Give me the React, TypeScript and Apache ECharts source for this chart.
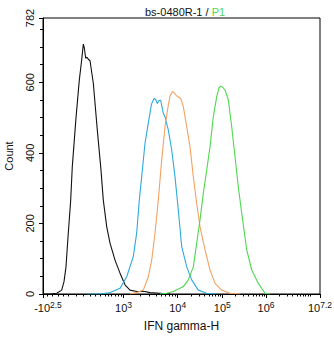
import React, { useEffect, useRef } from "react";
import * as echarts from "echarts";

// x values are display channels (0..1024) of the biexponential axis
const xMajorTicks = [0, 297.6, 498, 662.8, 824.4, 1024];
const xMajorLabels = ["{m|-10}{s|2.5}", "10{s|3}", "10{s|4}", "10{s|5}", "10{s|6}", "10{s|7.2}"];
const xLowMinorTicks = [15.9, 35.9, 55.5, 73.9, 92.4, 122, 149, 173.8, 192.3, 210.7, 229.2, 241.4, 254, 266.2, 278.4, 287.6];
const xDecadeChannels = [297.6, 498, 662.8, 824.4, 987];

const yMajorTicks = [0, 200, 400, 600, 782];
const yMinorTicks = [50, 100, 150, 250, 300, 350, 450, 500, 550, 650, 700, 750];

const blackCurve: number[][] = [
  [0, 0], [25.9, 0], [50.6, 2], [69.1, 11], [77.6, 35], [85, 77], [93.5, 173], [102.4, 266],
  [108.3, 361], [122, 499], [134.2, 606], [143, 663], [149, 708], [152.7, 697], [157.9, 668],
  [162.7, 671], [167.5, 665], [173.8, 661], [186, 597], [200.7, 465], [214.4, 351], [222.9, 266],
  [235.5, 191], [247.7, 144], [266.2, 96], [284.7, 59], [303.2, 26], [321.6, 11], [346.4, 7],
  [377, 7], [395.6, 4], [432.5, 2], [469.5, 0],
];
const blueCurve: number[][] = [
  [161.6, 0], [210.7, 0], [247.7, 4], [284.7, 16], [309.4, 49], [333.8, 106], [346.4, 173],
  [356, 266], [368.6, 361], [377.1, 427], [393, 502], [401.2, 538], [410.4, 554], [416, 552],
  [422.6, 540], [428.8, 548], [435.1, 549], [444.7, 512], [451, 502], [463.2, 465], [475.8, 408],
  [488, 332], [500.2, 238], [512.8, 134], [531.3, 77], [549.7, 40], [574.1, 11], [605.2, 2], [636, 0],
];
const orangeCurve: number[][] = [
  [321.6, 0], [346.4, 4], [370.8, 11], [389.3, 49], [401.9, 96], [414.1, 172], [426.3, 266],
  [438.8, 380], [451, 474], [463.2, 535], [469.5, 561], [478.8, 574], [486.2, 569], [494.3, 561],
  [502.8, 557], [509.1, 554], [518.7, 531], [531.3, 474], [543.5, 417], [555.7, 332], [568.2, 257],
  [580.4, 191], [598.9, 125], [617.4, 68], [635.9, 30], [660.7, 11], [691.3, 2], [728.3, 0],
];
const greenCurve: number[][] = [
  [432.5, 0], [457.3, 2], [481.7, 7], [506.5, 16], [518.7, 21], [537.2, 40], [555.7, 77],
  [568.2, 144], [580.4, 210], [592.6, 285], [605.2, 351], [617.4, 417], [629.6, 502], [642.2, 559],
  [650.7, 584], [657, 589], [663.6, 586], [672.9, 578], [685.1, 550], [697.6, 474], [709.8, 389],
  [722, 304], [734.6, 229], [753.1, 125], [771.6, 68], [796, 30], [820.7, 2], [839.2, 0],
];

function decadeMinorTicks(): number[] {
  const out: number[] = [...xLowMinorTicks];
  for (let i = 0; i < xDecadeChannels.length - 1; i++) {
    const a = xDecadeChannels[i];
    const b = xDecadeChannels[i + 1];
    for (let k = 2; k <= 9; k++) out.push(a + (b - a) * Math.log10(k));
  }
  out.push(xDecadeChannels[xDecadeChannels.length - 1]);
  return out;
}

export default function App() {
  const ref = useRef<HTMLDivElement>(null);
  useEffect(() => {
    if (!ref.current) return;
    const chart = echarts.init(ref.current, null, { renderer: "svg" });
    const font = "Liberation Sans, Arial, sans-serif";
    const line = (data: number[][], color: string) => ({
      type: "line",
      data,
      showSymbol: false,
      symbol: "none",
      lineStyle: { color, width: 1.1 },
      xAxisIndex: 0,
      yAxisIndex: 0,
    });
    chart.setOption({
      animation: false,
      backgroundColor: "#fff",
      title: {
        text: "{a|bs-0480R-1 / }{b|P1}",
        left: 140,
        top: 1,
        textStyle: {
          fontWeight: "normal",
          rich: {
            a: { fontFamily: font, fontSize: 11, fontWeight: "normal", color: "#111" },
            b: { fontFamily: font, fontSize: 11, fontWeight: "normal", color: "#4fd84f" },
          },
        },
      },
      grid: {
        left: 43,
        top: 18,
        right: 14,
        bottom: 43,
        show: true,
        borderColor: "#000",
        borderWidth: 1,
        backgroundColor: "transparent",
        containLabel: false,
        outerBoundsMode: "none",
      },
      xAxis: [
        {
          type: "value",
          min: 0,
          max: 1024,
          name: "IFN gamma-H",
          nameLocation: "middle",
          nameGap: 26,
          nameTextStyle: { fontFamily: font, fontSize: 12, color: "#111" },
          axisLine: { show: true, lineStyle: { color: "#000", width: 1 } },
          axisTick: { show: true, customValues: xMajorTicks, length: 4, lineStyle: { color: "#000" } },
          axisLabel: {
            show: true,
            customValues: xMajorTicks,
            margin: 6,
            formatter: (v: number) => {
              let best = 0;
              for (let i = 0; i < xMajorTicks.length; i++) {
                if (Math.abs(xMajorTicks[i] - v) < Math.abs(xMajorTicks[best] - v)) best = i;
              }
              return xMajorLabels[best];
            },
            fontFamily: font,
            fontSize: 11,
            color: "#111",
            rich: {
              s: { fontFamily: font, fontSize: 8.5, color: "#111", padding: [0, 0, 7, 0] },
              m: { fontFamily: font, fontSize: 11, color: "#111", padding: [0, 0, 0, 10] },
            },
          },
          splitLine: { show: false },
        },
        {
          type: "value",
          min: 0,
          max: 1024,
          position: "bottom",
          axisLine: { show: false },
          axisTick: { show: true, customValues: decadeMinorTicks(), length: 2.5, lineStyle: { color: "#000" } },
          axisLabel: { show: false },
          splitLine: { show: false },
        },
      ],
      yAxis: [
        {
          type: "value",
          min: 0,
          max: 782,
          name: "Count",
          nameLocation: "middle",
          nameGap: 29,
          nameRotate: 90,
          nameTextStyle: { fontFamily: font, fontSize: 11, color: "#111" },
          axisLine: { show: true, lineStyle: { color: "#000", width: 1 } },
          axisTick: { show: true, customValues: yMajorTicks, length: 4, lineStyle: { color: "#000" } },
          axisLabel: {
            show: true,
            customValues: yMajorTicks,
            rotate: 90,
            margin: 8,
            fontFamily: font,
            fontSize: 11,
            color: "#111",
          },
          splitLine: { show: false },
        },
        {
          type: "value",
          min: 0,
          max: 782,
          position: "left",
          axisLine: { show: false },
          axisTick: { show: true, customValues: yMinorTicks, length: 3, lineStyle: { color: "#000" } },
          axisLabel: { show: false },
          splitLine: { show: false },
        },
      ],
      series: [
        line(blackCurve, "#111111"),
        line(blueCurve, "#2eaadc"),
        line(orangeCurve, "#f2a262"),
        line(greenCurve, "#4fd84f"),
      ],
    });
    return () => chart.dispose();
  }, []);
  return <div ref={ref} style={{ position: "fixed", left: 0, top: 0, width: 334, height: 337 }} />;
}
